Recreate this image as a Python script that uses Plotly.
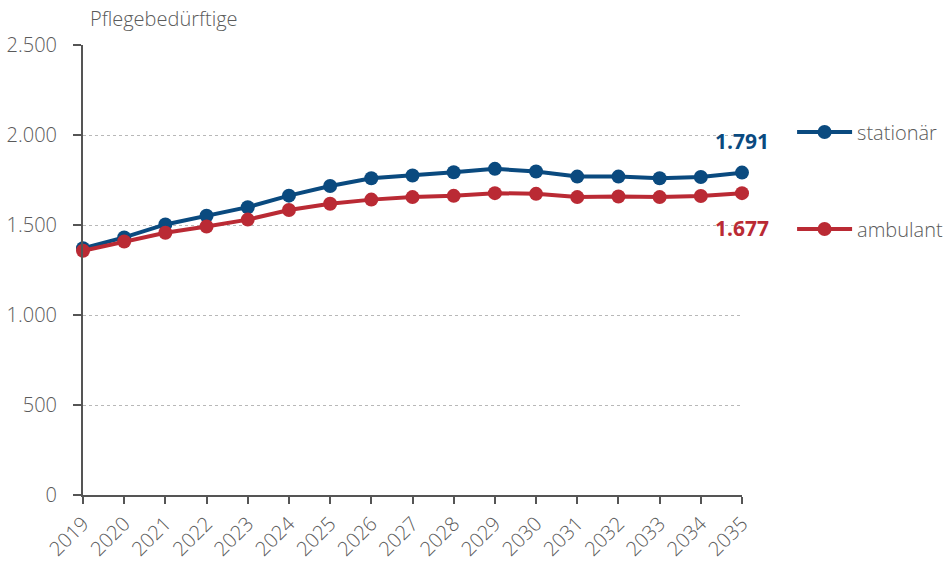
import plotly.graph_objects as go

# Pflegebedürftige nach Versorgungsart, 2019–2035
years = list(range(2019, 2036))
stationaer = [1371, 1431, 1503, 1551, 1599, 1663, 1717, 1760, 1775, 1793, 1812,
              1797, 1769, 1769, 1760, 1767, 1791]
ambulant = [1357, 1408, 1457, 1492, 1530, 1583, 1618, 1641, 1655, 1662, 1677,
            1673, 1655, 1658, 1655, 1661, 1677]

BLUE = "#0a4a7f"
RED = "#ba2a34"
GREY = "#5a5a5a"
FONT = "Open Sans"

fig = go.Figure()
fig.add_trace(go.Scatter(
    x=years, y=stationaer, name="stationär", mode="lines+markers",
    line=dict(color=BLUE, width=4), marker=dict(color=BLUE, size=14),
    cliponaxis=False, legendgroup="s",
))
fig.add_trace(go.Scatter(
    x=years, y=ambulant, name="ambulant", mode="lines+markers",
    line=dict(color=RED, width=4), marker=dict(color=RED, size=14),
    cliponaxis=False, legendgroup="a",
))

# end-of-series value labels
fig.add_annotation(x=years[-1], y=stationaer[-1], text=f"<b>{stationaer[-1]:,}</b>".replace(",", "."),
                   showarrow=False, yshift=32, font=dict(family=FONT, size=21, color=BLUE))
fig.add_annotation(x=years[-1], y=ambulant[-1], text=f"<b>{ambulant[-1]:,}</b>".replace(",", "."),
                   showarrow=False, yshift=-35, font=dict(family=FONT, size=21, color=RED))

fig.add_annotation(xref="paper", yref="paper", x=0.007, y=1.0, yshift=27,
                   xanchor="left", yanchor="middle", showarrow=False,
                   text="Pflegebedürftige",
                   font=dict(family=FONT, size=20, color=GREY, weight=300))

fig.update_layout(
    width=947, height=569,
    margin=dict(l=83, r=205, t=45, b=74, autoexpand=False),
    paper_bgcolor="white", plot_bgcolor="white",
    separators=",.",
    font=dict(family=FONT, color=GREY, weight=300),
    showlegend=True,
    legend=dict(x=1.076, y=0.85, xanchor="left", yanchor="top",
                font=dict(family=FONT, size=20, color=GREY, weight=300),
                itemwidth=55, tracegroupgap=68, bgcolor="rgba(0,0,0,0)"),
    xaxis=dict(
        range=[2019, 2035], tickmode="array", tickvals=years,
        ticktext=[str(y) for y in years], tickangle=-45,
        tickfont=dict(family=FONT, size=20, color=GREY, weight=300),
        showline=True, linecolor="#555555", linewidth=2,
        ticks="outside", ticklen=7, tickcolor="#555555", tickwidth=2,
        showgrid=False, zeroline=False, automargin=False,
    ),
    yaxis=dict(
        range=[0, 2500], tickvals=[0, 500, 1000, 1500, 2000, 2500],
        tickformat=",", tickfont=dict(family=FONT, size=20, color=GREY, weight=300),
        showline=True, linecolor="#555555", linewidth=2,
        ticks="outside", ticklen=8, tickcolor="#555555", tickwidth=2,
        ticklabelstandoff=12, automargin=False,
        showgrid=True, gridcolor="#b8b8b8", griddash="dot", gridwidth=1,
        zeroline=False,
    ),
)

fig.write_html("out.html")
